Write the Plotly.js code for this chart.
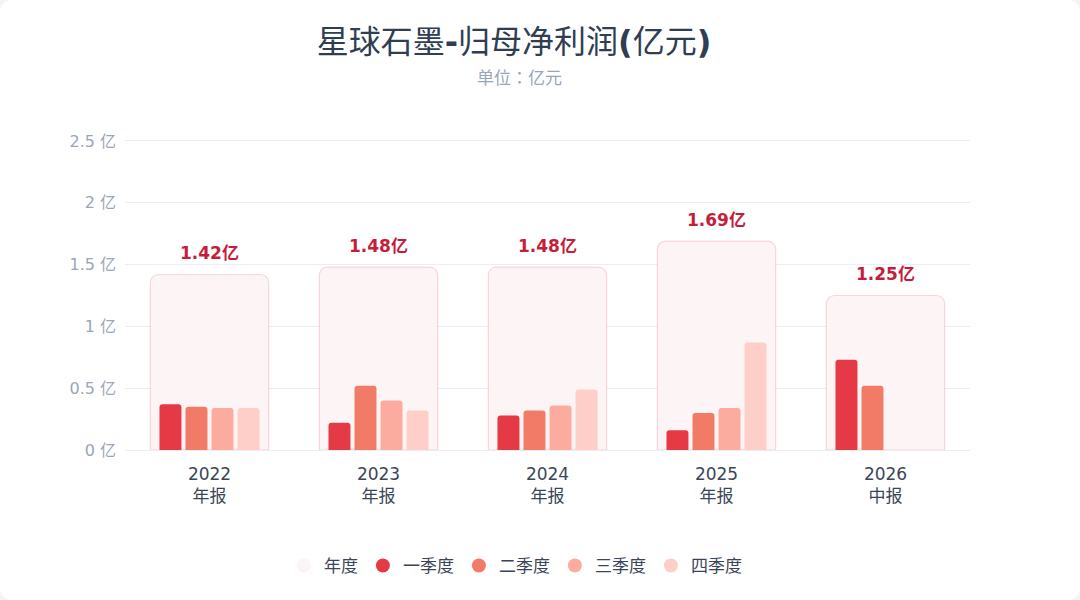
<!DOCTYPE html>
<html>
<head>
<meta charset="utf-8">
<script src="https://cdn.plot.ly/plotly-3.0.1.min.js"></script>
<style>
  html, body { margin: 0; padding: 0; background: #f3f4f6; }
  #card { width: 1080px; height: 600px; background: #ffffff; border-radius: 12px; overflow: hidden; }
</style>
</head>
<body>
<div id="card"><div id="myDiv" style="width:1080px;height:600px;"></div></div>
<script>
// 报告期
var periods = ['2022<br>年报', '2023<br>年报', '2024<br>年报', '2025<br>年报', '2026<br>中报'];

// 年度归母净利润(亿元)
var annualValues = [1.42, 1.48, 1.48, 1.69, 1.25];
var annualLabels = ['1.42亿', '1.48亿', '1.48亿', '1.69亿', '1.25亿'];

// 单季度归母净利润(亿元)
var q1Values = [0.37, 0.22, 0.28, 0.16, 0.73];
var q2Values = [0.35, 0.52, 0.32, 0.30, 0.52];
var q3Values = [0.34, 0.40, 0.36, 0.34, null];
var q4Values = [0.34, 0.32, 0.49, 0.87, null];

// y 轴刻度
var yTickVals = [0, 0.5, 1, 1.5, 2, 2.5];
var yTickText = ['0 亿', '0.5 亿', '1 亿', '1.5 亿', '2 亿', '2.5 亿'];

var quarterNames = ['一季度', '二季度', '三季度', '四季度'];
var quarterColors = ['#e63946', '#f27b67', '#fcac9f', '#fecfc8'];
var quarterData = [q1Values, q2Values, q3Values, q4Values];
var quarterOffsets = [-0.296, -0.142, 0.012, 0.166];

var annualFill = '#fcf4f5';
var baseFont = 'DejaVu Sans, Noto Sans CJK SC, sans-serif';
var plotHeight = 311;

var annualTrace = {
  x: periods,
  y: annualValues,
  type: 'bar',
  name: '年度',
  width: 0.7,
  showlegend: false,
  hoverinfo: 'skip',
  marker: {
    color: annualFill,
    cornerradius: 8,
    line: { color: 'rgba(232, 110, 130, 0.25)', width: 1.2 }
  }
};

var data = [annualTrace];

quarterData.forEach(function(vals, i) {
  data.push({
    x: periods,
    y: vals,
    type: 'bar',
    name: quarterNames[i],
    width: 0.13,
    offset: quarterOffsets[i],
    showlegend: false,
    marker: { color: quarterColors[i], cornerradius: 3 }
  });
});

// 图例用圆点
var legendNames = ['年度'].concat(quarterNames);
var legendColors = [annualFill].concat(quarterColors);
legendNames.forEach(function(name, i) {
  data.push({
    x: [null],
    y: [null],
    type: 'scatter',
    mode: 'markers',
    name: name,
    marker: { color: legendColors[i], size: 14, symbol: 'circle' }
  });
});

var annotations = periods.map(function(p, i) {
  return {
    x: p,
    y: annualValues[i],
    xref: 'x',
    yref: 'y',
    text: annualLabels[i],
    showarrow: false,
    yshift: 21,
    font: { size: 17, color: '#c41e3a', family: baseFont, weight: 'bold' }
  };
});

annotations.push({
  text: '单位：亿元',
  xref: 'paper',
  yref: 'paper',
  x: 0.467,
  y: (450 - 76) / plotHeight,
  xanchor: 'center',
  yanchor: 'middle',
  showarrow: false,
  font: { size: 17, color: '#98a6ba', family: 'Noto Sans CJK TC, Noto Sans CJK SC, sans-serif' }
});

var layout = {
  width: 1080,
  height: 600,
  paper_bgcolor: 'rgba(0,0,0,0)',
  plot_bgcolor: 'rgba(0,0,0,0)',
  margin: { l: 125, r: 110, t: 139, b: 150 },
  font: { family: baseFont, color: '#3a4658' },
  title: {
    text: '星球石墨<b>-</b>归母净利润<b>(</b>亿元<b>)</b>',
    x: 514 / 1080,
    xanchor: 'center',
    xref: 'container',
    y: 1 - 42 / 600,
    yref: 'container',
    yanchor: 'middle',
    font: { size: 32, color: '#2f3e52', family: baseFont }
  },
  barmode: 'overlay',
  xaxis: {
    type: 'category',
    range: [-0.5, 4.5],
    showgrid: false,
    zeroline: false,
    showline: false,
    ticks: '',
    ticklabelstandoff: 12,
    tickfont: { size: 17, color: '#3a4658' },
    fixedrange: true
  },
  yaxis: {
    range: [0, 2.516],
    tickvals: yTickVals,
    ticktext: yTickText,
    gridcolor: '#ececf3',
    gridwidth: 1,
    zeroline: true,
    zerolinecolor: '#ececf3',
    showline: false,
    ticks: '',
    ticklabelstandoff: 8,
    tickfont: { size: 16, color: '#9aa6b9' },
    fixedrange: true
  },
  legend: {
    orientation: 'h',
    x: 0.462,
    xanchor: 'center',
    y: -116 / plotHeight,
    yanchor: 'middle',
    font: { size: 17, color: '#3a4658' },
    itemwidth: 30
  },
  annotations: annotations
};

Plotly.newPlot('myDiv', data, layout, { displayModeBar: false, staticPlot: true });
</script>
</body>
</html>
